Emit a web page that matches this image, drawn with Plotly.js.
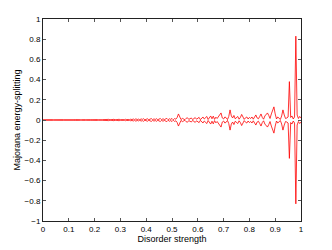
<!DOCTYPE html>
<html>
<head>
<meta charset="utf-8">
<script src="https://cdn.plot.ly/plotly-3.0.1.min.js"></script>
<style>
  html, body { margin: 0; padding: 0; background: #fff; }
  #chart { width: 332px; height: 250px; }
</style>
</head>
<body>
<div id="chart"></div>
<script>
// disorder strength samples (step 0.005)
var disorder = [];
for (var i = 0; i <= 200; i++) disorder.push(i / 200);

// Majorana energy splitting, 0.05 per row
var splitting = [
  0.001,0.002,0.001,0.003,0.002,0.001,0.002,0.003,0.001,0.002,
  0.002,0.001,0.003,0.002,0.001,0.002,0.003,0.002,0.001,0.002,
  0.003,0.002,0.001,0.003,0.002,0.004,0.002,0.001,0.003,0.002,
  0.002,0.004,0.001,0.003,0.002,0.004,0.001,0.003,0.002,0.004,
  0.003,0.001,0.004,0.002,0.005,0.001,0.003,0.004,0.002,0.005,
  0.002,0.006,0.001,0.004,0.003,0.007,0.001,0.005,0.003,0.007,
  0.002,0.006,0.004,0.001,0.007,0.003,0.006,0.001,0.008,0.004,
  0.010,0.002,0.012,0.004,0.009,0.001,0.011,0.006,0.013,0.002,
  0.004,0.012,0.003,0.010,0.014,0.002,0.011,0.005,0.013,0.003,
  0.012,0.015,0.002,0.013,0.004,0.014,0.016,0.003,0.012,0.006,
  0.015,0.002,0.014,0.008,0.025,0.060,0.030,0.004,0.016,0.010,
  0.003,0.017,0.022,0.006,0.015,0.020,0.004,0.014,0.024,0.008,
  0.018,0.026,0.003,0.022,0.030,0.010,0.020,0.035,0.005,0.025,
  0.040,0.012,0.038,0.006,0.028,0.015,0.030,0.045,0.070,0.020,
  0.010,0.030,0.022,0.004,0.035,0.100,0.040,0.020,0.045,0.012,
  0.028,0.035,0.008,0.025,0.055,0.030,0.006,0.022,0.030,0.010,
  0.025,0.015,0.030,0.008,0.028,0.050,0.020,0.012,0.035,0.060,
  0.025,0.008,0.040,0.055,0.070,0.045,0.015,0.060,0.090,0.130,
  0.060,0.010,0.030,0.020,0.005,0.040,0.100,0.050,0.015,0.020,
  0.030,0.380,0.025,0.040,0.010,0.030,0.830,0.050,0.015,0.035,
  0.020
];
var splittingNeg = splitting.map(function(v){ return -v; });

var xTicks = [0, 0.1, 0.2, 0.3, 0.4, 0.5, 0.6, 0.7, 0.8, 0.9, 1];
var yTicks = [-1, -0.8, -0.6, -0.4, -0.2, 0, 0.2, 0.4, 0.6, 0.8, 1];

var trace1 = {
    x: disorder,
    y: splitting,
    type: 'scatter',
    mode: 'lines',
    line: {color: 'rgb(255,0,0)', width: 0.8}
};
var trace2 = {
    x: disorder,
    y: splittingNeg,
    type: 'scatter',
    mode: 'lines',
    line: {color: 'rgb(255,0,0)', width: 0.8}
};

var axisStyle = {
    showgrid: false,
    zeroline: false,
    showline: true,
    linecolor: '#222',
    linewidth: 1,
    mirror: 'ticks',
    ticks: 'inside',
    ticklen: 3,
    tickcolor: '#555',
    tickfont: {family: 'Liberation Sans, Arial, sans-serif', size: 8, color: '#000'}
};

var layout = {
    width: 332,
    height: 250,
    margin: {l: 43, r: 31, t: 19, b: 29},
    showlegend: false,
    plot_bgcolor: '#fff',
    paper_bgcolor: '#fff',
    xaxis: Object.assign({}, axisStyle, {
        range: [0, 1],
        tickvals: xTicks,
        ticktext: xTicks.map(String),
        title: {text: 'Disorder strength', standoff: 2,
                font: {family: 'Liberation Sans, Arial, sans-serif', size: 9, color: '#000'}}
    }),
    yaxis: Object.assign({}, axisStyle, {
        range: [-1, 1],
        tickvals: yTicks,
        ticktext: yTicks.map(function(v){ return String(v).replace('-', '\u2212'); }),
        title: {text: 'Majorana energy-splitting', standoff: 2,
                font: {family: 'Liberation Sans, Arial, sans-serif', size: 9, color: '#000'}}
    })
};

Plotly.newPlot('chart', [trace1, trace2], layout, {staticPlot: true});
</script>
</body>
</html>
